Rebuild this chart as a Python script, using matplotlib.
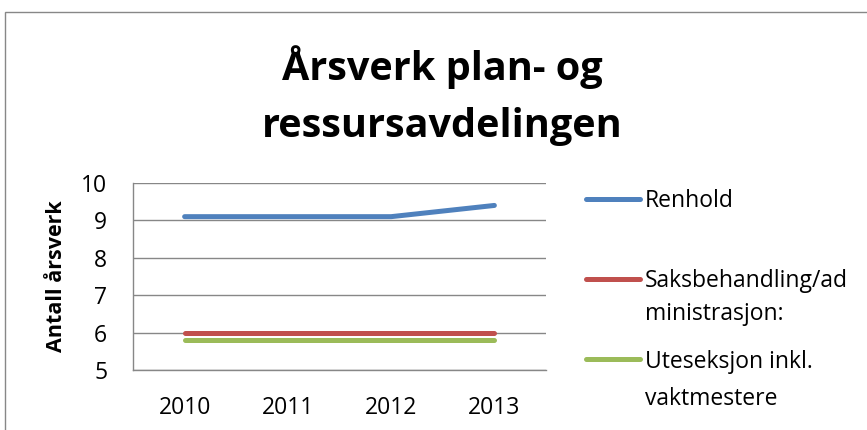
"""
Årsverk plan- og ressursavdelingen
Generates: out.png
"""
import matplotlib
matplotlib.use("Agg")
import matplotlib.pyplot as plt
from matplotlib.lines import Line2D
from matplotlib.patches import Rectangle

years = ["2010", "2011", "2012", "2013"]
renhold = [9.1, 9.1, 9.1, 9.4]
saksbehandling = [6.0, 6.0, 6.0, 6.0]
uteseksjon = [5.8, 5.8, 5.8, 5.8]

series_names = [["Renhold"], ["Saksbehandling/ad", "ministrasjon:"], ["Uteseksjon inkl.", "vaktmestere"]]
series_values = [renhold, saksbehandling, uteseksjon]
series_colors = ["#4F81BD", "#C0504D", "#9BBB59"]

plt.rcParams["font.family"] = ["Open Sans", "DejaVu Sans"]
GRID = "#878787"
W, H = 867, 430


def fx(px):
    return px / W


def fy(py):
    return 1 - py / H


fig = plt.figure(figsize=(W / 100, H / 100), dpi=100)
fig.patch.set_facecolor("white")

# outer chart frame, cut off at right and bottom like the source
fig.add_artist(Rectangle((fx(5), -0.1), 1.0, fy(12) + 0.1,
                         transform=fig.transFigure, fill=False,
                         edgecolor=GRID, linewidth=1.0, clip_on=False))

ax = fig.add_axes([fx(133), fy(370), fx(546) - fx(133), fy(183) - fy(370)])
x = range(len(years))
for vals, color in zip(series_values, series_colors):
    ax.plot(x, vals, color=color, linewidth=3.6, solid_capstyle="round", zorder=3)

ax.set_xlim(-0.5, len(years) - 0.5)
ax.set_ylim(5, 10)
ax.set_yticks(range(5, 11))
ax.set_xticks(list(x))
ax.set_xticklabels(years)
ax.tick_params(axis="both", length=0, labelsize=16.5, colors="black")
ax.tick_params(axis="y", pad=18.5)
ax.tick_params(axis="x", pad=18.5)
ax.yaxis.grid(True, color=GRID, linewidth=1.0)
ax.set_axisbelow(True)
for side in ("top", "right"):
    ax.spines[side].set_visible(False)
for side in ("left", "bottom"):
    ax.spines[side].set_color(GRID)
    ax.spines[side].set_linewidth(1.0)

ax.set_ylabel("Antall årsverk", fontsize=15.5, fontweight="bold")
ax.yaxis.set_label_coords((67.5 - 133) / 413, 0.5)

# two-line title, one text per line so baselines match
fig.text(fx(442), fy(80), "Årsverk plan- og", ha="center", va="baseline",
         fontsize=28.5, fontweight="bold")
fig.text(fx(442), fy(137), "ressursavdelingen", ha="center", va="baseline",
         fontsize=28.5, fontweight="bold")

# legend drawn by hand so handles sit on the first text line
legend_handle_y = [199, 279, 359]
legend_baselines = [[207], [287, 320], [368, 405]]
for lines, color, ypix, bases in zip(series_names, series_colors, legend_handle_y, legend_baselines):
    fig.add_artist(Line2D([fx(586), fx(640)], [fy(ypix), fy(ypix)], transform=fig.transFigure,
                          color=color, linewidth=3.6, solid_capstyle="round"))
    for line, base in zip(lines, bases):
        fig.text(fx(645), fy(base), line, ha="left", va="baseline", fontsize=16.5)

fig.savefig("out.png", dpi=100, facecolor="white")
